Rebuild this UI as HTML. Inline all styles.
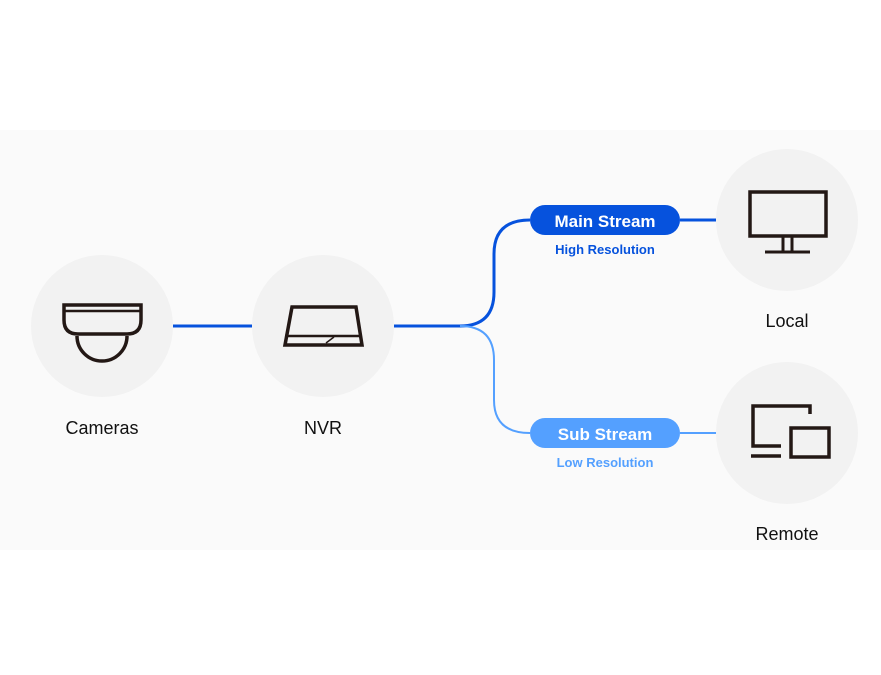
<!DOCTYPE html>
<html><head><style>
body{margin:0;width:881px;height:675px;background:#fff;position:relative;overflow:hidden;font-family:"Liberation Sans",sans-serif}
</style></head><body>
<svg width="881" height="675" style="position:absolute;left:0;top:0">
<rect x="0" y="130" width="881" height="420" fill="#fafafa"/>
<circle cx="102" cy="326" r="71" fill="#f2f2f2"/>
<circle cx="323" cy="326" r="71" fill="#f2f2f2"/>
<circle cx="787" cy="220" r="71" fill="#f2f2f2"/>
<circle cx="787" cy="433" r="71" fill="#f2f2f2"/>
<line x1="173" y1="326" x2="252" y2="326" stroke="#0652dd" stroke-width="3"/>
<path d="M394 326 H460 Q494 326 494 292 V254 Q494 220 530 220" fill="none" stroke="#0652dd" stroke-width="3"/>
<line x1="680" y1="220" x2="716" y2="220" stroke="#0652dd" stroke-width="3"/>
<path d="M460 326 Q494 326 494 360 V400 Q494 433 530 433" fill="none" stroke="#54a0ff" stroke-width="2"/>
<line x1="680" y1="433" x2="716" y2="433" stroke="#54a0ff" stroke-width="2"/>
<rect x="530" y="205" width="150" height="30" rx="15" fill="#0652dd"/>
<rect x="530" y="418" width="150" height="30" rx="15" fill="#54a0ff"/>
<text x="605" y="227" text-anchor="middle" fill="#fff" font-size="17" font-weight="bold">Main Stream</text>
<text x="605" y="440" text-anchor="middle" fill="#fff" font-size="17" font-weight="bold">Sub Stream</text>
<text x="605" y="254" text-anchor="middle" fill="#0652dd" font-size="13" font-weight="bold">High Resolution</text>
<text x="605" y="467" text-anchor="middle" fill="#54a0ff" font-size="13" font-weight="bold">Low Resolution</text>
<g fill="none" stroke="#231815" stroke-width="3.5">
<path d="M64 305 H141 V320 Q141 334 127 334 H78 Q64 334 64 320 Z"/>
<line x1="64" y1="311" x2="141" y2="311" stroke-width="2.5"/>
<path d="M77 336 A25 25 0 0 0 127 336"/>
<path d="M292 307 H356 L362 345 H285 Z"/>
<line x1="285" y1="336" x2="362" y2="336" stroke-width="2.5"/>
<line x1="326" y1="343" x2="334" y2="337" stroke-width="1.5"/>
<rect x="750" y="192" width="76" height="44"/>
<line x1="783" y1="236" x2="783" y2="251" stroke-width="3"/>
<line x1="792" y1="236" x2="792" y2="251" stroke-width="3"/>
<line x1="765" y1="252" x2="810" y2="252" stroke-width="3"/>
<path d="M810 414 V406 H753 V446 H781"/>
<line x1="751" y1="456" x2="781" y2="456"/>
<rect x="791" y="428" width="38" height="29"/>
</g>
<g font-size="18" fill="#111" text-anchor="middle">
<text x="102" y="434">Cameras</text>
<text x="323" y="434">NVR</text>
<text x="787" y="327">Local</text>
<text x="787" y="540">Remote</text>
</g>
</svg>
</body></html>
